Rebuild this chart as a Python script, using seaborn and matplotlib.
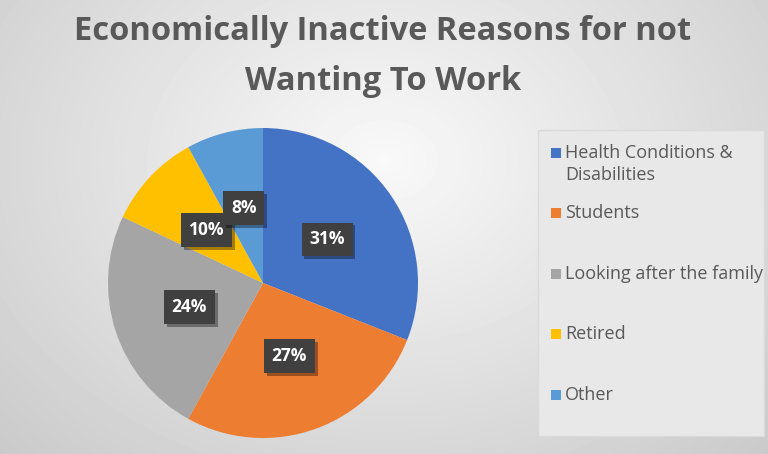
import numpy as np
import matplotlib
matplotlib.use("Agg")
import matplotlib.pyplot as plt
import matplotlib.patheffects as pe
from matplotlib.patches import Rectangle
import seaborn as sns

# Chart data
reasons = ["Health Conditions &\nDisabilities", "Students", "Looking after the family",
           "Retired", "Other"]
shares = [31, 27, 24, 10, 8]
slice_colors = ["#4472C4", "#ED7D31", "#A5A5A5", "#FFC000", "#5B9BD5"]
title_lines = ["Economically Inactive Reasons for not", "Wanting To Work"]

sns.set_style("white")
plt.rcParams["font.family"] = ["Open Sans", "DejaVu Sans"]

W, H = 768, 454
fig = plt.figure(figsize=(W / 100, H / 100), dpi=100)


def fx(px):
    return px / W


def fy(py):
    return 1 - py / H


# Radial grey gradient background
bg = fig.add_axes([0, 0, 1, 1], zorder=0)
yy, xx = np.mgrid[0:H, 0:W]
d = np.sqrt(((xx - 384) / 560) ** 2 + ((yy - 160) / 430) ** 2)
shade = 0.975 - 0.19 * np.clip(d, 0, 1.4)
bg.imshow(shade, cmap="gray", vmin=0, vmax=1, aspect="auto",
          extent=[0, 1, 0, 1], interpolation="bilinear")
bg.axis("off")

# Pie
cx, cy, r = 263, 283, 155
ax = fig.add_axes([fx(cx - r), fy(cy + r), 2 * r / W, 2 * r / H], zorder=1)
wedges, _, autotexts = ax.pie(
    shares, colors=slice_colors, startangle=90, counterclock=False,
    autopct="%.0f%%", pctdistance=0.5,
    wedgeprops=dict(linewidth=0),
    textprops=dict(color="white", fontsize=12.5, fontweight="bold"),
)
ax.set_xlim(-1, 1)
ax.set_ylim(-1, 1)
for t in autotexts:
    t.set_bbox(dict(boxstyle="square,pad=0.45", fc="#404040", ec="none"))
    t.get_bbox_patch().set_path_effects(
        [pe.withSimplePatchShadow(offset=(2, -2), shadow_rgbFace="black", alpha=0.35)])

# Title, one line at a time
for i, line in enumerate(title_lines):
    fig.text(fx(383), fy(40 + 50 * i), line, ha="center", va="baseline",
             fontsize=23.5, fontweight="bold", color="#595959")

# Legend panel
panel = Rectangle((fx(538), fy(436)), fx(764) - fx(538), fy(130) - fy(436),
                  transform=fig.transFigure, fc="#e8e8e8", ec="#dadada", lw=1,
                  zorder=2)
fig.patches.append(panel)

first_y, step = 152.5, 60.6
for i, (lab, col) in enumerate(zip(reasons, slice_colors)):
    yc = first_y + i * step
    sq = Rectangle((fx(551), fy(yc + 5)), 10 / W, 10 / H,
                   transform=fig.transFigure, fc=col, ec="none", zorder=3)
    fig.patches.append(sq)
    for k, part in enumerate(lab.split("\n")):
        fig.text(fx(565), fy(yc + 5 + 22 * k), part, ha="left", va="baseline",
                 fontsize=13, color="#595959", zorder=3)

fig.savefig("out.png", dpi=100)
